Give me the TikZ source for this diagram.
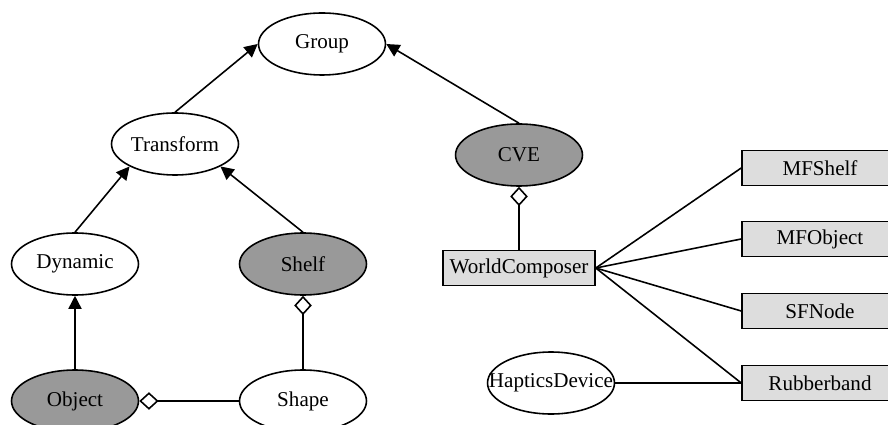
\documentclass[tikz,border=0pt]{standalone}
\usepackage{fontspec}
\setmainfont{Liberation Serif}
\usetikzlibrary{arrows.meta, shapes.geometric}
\definecolor{cdark}{HTML}{999999}
\definecolor{clight}{HTML}{DDDDDD}
\tikzset{
  every picture/.style={line width=0.9pt},
  cls/.style={ellipse, draw, fill=#1, minimum width=2.54cm, minimum height=1.24cm, inner sep=0pt, font=\fontsize{12}{14}\selectfont},
  cls/.default=white,
  field/.style={rectangle, draw, fill=clight, minimum height=0.7cm, inner sep=2pt, font=\fontsize{12}{14}\selectfont},
  inherit/.style={-{Triangle[length=7.5pt, width=7.5pt]}},
  part/.style={-{Diamond[open, length=11pt, width=10pt]}},
}
\begin{document}
\begin{tikzpicture}[x=0.02cm, y=-0.02cm]
  \useasboundingbox (0,0) rectangle (888,425);
  \clip (0,0) rectangle (888,425);
  % class tree
  \node[cls] (group) at (322,44) {Group};
  \node[cls] (transform) at (175,144) {Transform};
  \node[cls=cdark] (cve) at (519,155) {CVE};
  \node[cls] (dynamic) at (75,264) {Dynamic};
  \node[cls=cdark] (shelf) at (303,264) {Shelf};
  \node[cls=cdark] (object) at (75,401) {Object};
  \node[cls] (shape) at (303,401) {Shape};
  \draw[inherit] (transform.north) -- (group.west);
  \draw[inherit] (cve.north) -- (group.east);
  \draw[inherit] (dynamic.north) -- (transform.south west);
  \draw[inherit] (shelf.north) -- (transform.south east);
  \draw[inherit] (object) -- (dynamic);
  \draw[part] (shape) -- (shelf);
  \draw[part] (shape) -- (object);
  % composer and fields
  \node[field, minimum width=3.04cm] (composer) at (519,268) {WorldComposer};
  \draw[part] (composer) -- (cve);
  \foreach \name/\txt/\y in {mfshelf/MFShelf/168, mfobject/MFObject/239, sfnode/SFNode/311, rubber/Rubberband/383} {
    \node[field, minimum width=3.12cm] (\name) at (820,\y) {\txt};
    \draw (composer.east) -- (\name.west);
  }
  \node[cls] (haptics) at (551,383) {\makebox[0pt]{HapticsDevice}};
  \draw (haptics.east) -- (rubber.west);
\end{tikzpicture}
\end{document}
